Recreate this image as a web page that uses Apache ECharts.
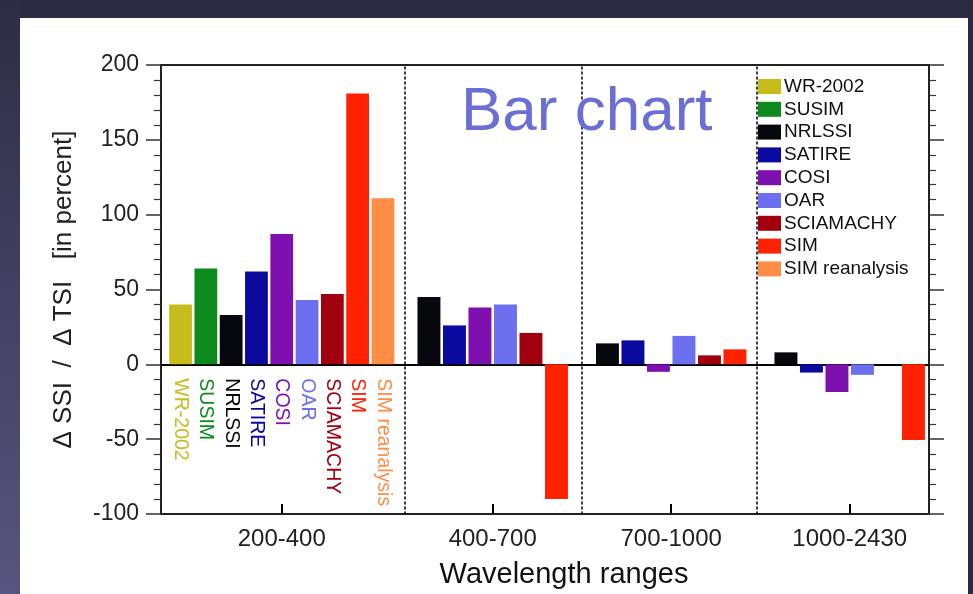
<!DOCTYPE html>
<html>
<head>
<meta charset="utf-8">
<script src="https://cdn.jsdelivr.net/npm/echarts@6/dist/echarts.min.js"></script>
<style>
  html, body { margin: 0; padding: 0; width: 973px; height: 594px; overflow: hidden; background: #2b2c42; }
  #strip { position: absolute; left: 0; top: 0; width: 20px; height: 594px; background: linear-gradient(to bottom, #2d2d44, #57557f); }
  #panel { position: absolute; left: 20px; top: 18px; width: 948px; height: 576px; background: #ffffff; }
  #chart { position: absolute; left: 0; top: 0; width: 973px; height: 594px; }
</style>
</head>
<body>
<div id="strip"></div>
<div id="panel"></div>
<div id="chart"></div>
<script>
// ---- data ----
const datasetNames = ['WR-2002', 'SUSIM', 'NRLSSI', 'SATIRE', 'COSI', 'OAR', 'SCIAMACHY', 'SIM', 'SIM reanalysis'];
const groupLabels = ['200-400', '400-700', '700-1000', '1000-2430'];
// which datasets have a slot in each wavelength group
const groupMembers = [
  ['WR-2002', 'SUSIM', 'NRLSSI', 'SATIRE', 'COSI', 'OAR', 'SCIAMACHY', 'SIM', 'SIM reanalysis'],
  ['NRLSSI', 'SATIRE', 'COSI', 'OAR', 'SCIAMACHY', 'SIM'],
  ['NRLSSI', 'SATIRE', 'COSI', 'OAR', 'SCIAMACHY', 'SIM'],
  ['NRLSSI', 'SATIRE', 'COSI', 'OAR', 'SCIAMACHY', 'SIM']
];
// values per group (200-400, 400-700, 700-1000, 1000-2430)
const WR2002        = [40, null, null, null];
const SUSIM         = [64, null, null, null];
const NRLSSI        = [33, 45, 14, 8];
const SATIRE        = [62, 26, 16, -5.5];
const COSI          = [87, 38, -5, -18.5];
const OAR           = [43, 40, 19, -7];
const SCIAMACHY     = [47, 21, 6, null];
const SIM           = [181, -90, 10, -50.5];
const SIMreanalysis = [111, null, null, null];
const yTickValues = [-100, -50, 0, 50, 100, 150, 200];

const valuesByName = {
  'WR-2002': WR2002, 'SUSIM': SUSIM, 'NRLSSI': NRLSSI, 'SATIRE': SATIRE, 'COSI': COSI,
  'OAR': OAR, 'SCIAMACHY': SCIAMACHY, 'SIM': SIM, 'SIM reanalysis': SIMreanalysis
};

// ---- styles / layout ----
const colors = {
  'WR-2002': '#c8bb1c', 'SUSIM': '#0d8a1d', 'NRLSSI': '#07070e', 'SATIRE': '#0a0a9f',
  'COSI': '#7e10b0', 'OAR': '#6b6ff0', 'SCIAMACHY': '#a1000f', 'SIM': '#ff2200', 'SIM reanalysis': '#ff8d45'
};
const FONT = '"Liberation Sans", Arial, Helvetica, sans-serif';
const PLOT_TOP = 65, PLOT_BOTTOM = 80;
const groupGrids = [
  { left: 167.9, width: 227.7, divider: 0 },
  { left: 416.2, width: 153, divider: 11.2 },
  { left: 594.7, width: 153, divider: 12.7 },
  { left: 773.2, width: 153, divider: 16.2 }
];

const yMin = yTickValues[0], yMax = yTickValues[yTickValues.length - 1];
const yInterval = yTickValues[1] - yTickValues[0];

const grids = [{ left: 161, right: 44, top: PLOT_TOP, bottom: PLOT_BOTTOM, show: true, borderColor: '#222', borderWidth: 2 }];
const xAxes = [{
  gridIndex: 0, type: 'value', min: 0, max: 1, position: 'bottom',
  axisLine: { show: true, onZero: true, lineStyle: { color: '#000', width: 2 } },
  axisTick: { show: false }, axisLabel: { show: false }, splitLine: { show: false }
}];
const tickCommon = { show: true, length: 15, lineStyle: { color: '#333', width: 1.5 } };
const yAxes = [
  {
    gridIndex: 0, type: 'value', position: 'left', min: yMin, max: yMax, interval: yInterval,
    axisLine: { show: true, lineStyle: { color: '#222', width: 2 } },
    axisTick: tickCommon,
    minorTick: { show: true, splitNumber: 5, length: 7, lineStyle: { color: '#333', width: 1.2 } },
    splitLine: { show: false },
    axisLabel: { fontFamily: FONT, fontSize: 23, color: '#222', margin: 22 },
    name: 'Δ SSI  /  Δ TSI   [in percent]', nameLocation: 'middle', nameGap: 84,
    nameTextStyle: { fontFamily: FONT, fontSize: 26, color: '#222' }
  },
  {
    gridIndex: 0, type: 'value', position: 'right', min: yMin, max: yMax, interval: yInterval,
    axisLine: { show: true, lineStyle: { color: '#222', width: 2 } },
    axisTick: tickCommon,
    minorTick: { show: true, splitNumber: 5, length: 7, lineStyle: { color: '#333', width: 1.2 } },
    splitLine: { show: false }, axisLabel: { show: false }
  }
];
const series = [];

groupMembers.forEach(function (members, g) {
  const gi = g + 1;
  grids.push({ left: groupGrids[g].left, width: groupGrids[g].width, top: PLOT_TOP, bottom: PLOT_BOTTOM });
  const catIndex = xAxes.length;
  xAxes.push({
    gridIndex: gi, type: 'category', position: 'top', data: members, show: false
  });
  xAxes.push({
    gridIndex: gi, type: 'value', position: 'bottom', min: 0, max: members.length,
    axisLine: { show: false, onZero: false },
    axisTick: { show: true, inside: true, length: 10, customValues: [members.length / 2], lineStyle: { color: '#000', width: 2 } },
    axisLabel: { show: false }, splitLine: { show: false },
    name: groupLabels[g], nameLocation: 'middle', nameGap: 13,
    nameTextStyle: { fontFamily: FONT, fontSize: 24, color: '#222' }
  });
  const yIndex = yAxes.length;
  yAxes.push({
    gridIndex: gi, type: 'value', position: 'left', min: yMin, max: yMax, interval: yInterval,
    offset: groupGrids[g].divider,
    axisLine: { show: g > 0, onZero: false, lineStyle: { color: '#111', width: 1.6, type: [2, 3] } },
    axisTick: { show: false }, axisLabel: { show: false }, splitLine: { show: false }
  });
  members.forEach(function (name) {
    const v = valuesByName[name][g];
    series.push({
      name: name, type: 'bar', xAxisIndex: catIndex, yAxisIndex: yIndex,
      stack: 'group' + g, barCategoryGap: '10%',
      itemStyle: { color: colors[name] },
      data: members.map(function (m) { return m === name ? v : null; }),
      label: {
        show: g === 0, position: 'bottom', distance: 14, rotate: -90,
        align: 'left', verticalAlign: 'middle', formatter: name,
        fontFamily: FONT, fontSize: 19.5, color: colors[name]
      },
      emphasis: { disabled: true }
    });
  });
});

const chart = echarts.init(document.getElementById('chart'), null, { renderer: 'canvas' });
chart.setOption({
  animation: false,
  backgroundColor: 'transparent',
  textStyle: { fontFamily: FONT },
  title: [
    { text: 'Bar chart', left: 456, top: 77, textStyle: { fontFamily: FONT, fontSize: 62, fontWeight: 'normal', color: '#6b6fd5' } },
    { text: 'Wavelength ranges', left: 559, top: 555, textAlign: 'center', textStyle: { fontFamily: FONT, fontSize: 29, fontWeight: 'normal', color: '#111' } }
  ],
  legend: {
    data: datasetNames, orient: 'vertical', left: 758, top: 77, padding: 0,
    itemWidth: 23, itemHeight: 15, itemGap: 3.8, icon: 'rect', selectedMode: false,
    textStyle: { fontFamily: FONT, fontSize: 19, color: '#111', padding: [0, 0, 0, -2] }
  },
  grid: grids,
  xAxis: xAxes,
  yAxis: yAxes,
  series: series
});
</script>
</body>
</html>
